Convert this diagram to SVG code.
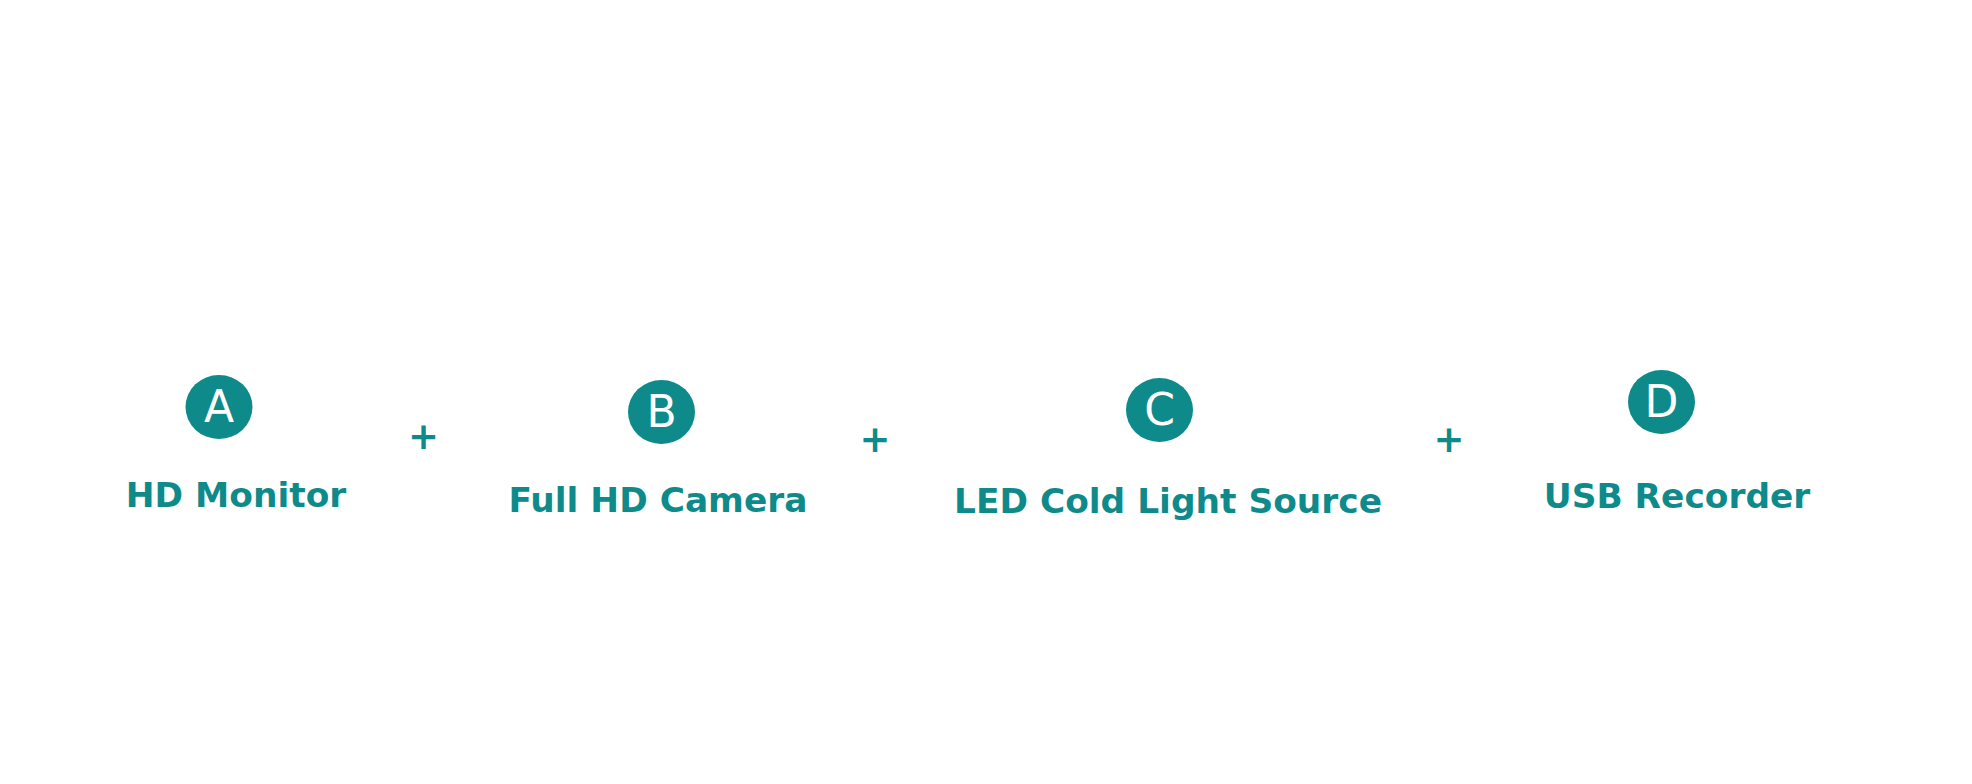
<svg xmlns="http://www.w3.org/2000/svg" width="1972" height="784" viewBox="0 0 1972 784">
<style>
.badge{fill:#0e8a8b}
.letter{fill:#ffffff;font-family:"DejaVu Sans",Verdana,sans-serif;font-size:44px;text-anchor:middle}
.label{fill:#0e8a8b;font-family:"DejaVu Sans",Verdana,sans-serif;font-weight:bold;font-size:34.4px;text-anchor:middle}
.plus{fill:#0e8a8b;font-family:"DejaVu Sans",Verdana,sans-serif;font-weight:bold;font-size:37px;text-anchor:middle}
</style>
<rect width="1972" height="784" fill="#ffffff"/>
<g id="node-a">
<ellipse class="badge" cx="219" cy="407" rx="33.5" ry="32"/>
<text class="letter" x="219" y="422">A</text>
<text class="label" x="236" y="507">HD Monitor</text>
</g>
<g id="node-b">
<ellipse class="badge" cx="661.5" cy="412" rx="33.5" ry="32"/>
<text class="letter" x="661.5" y="427">B</text>
<text class="label" x="658" y="512">Full HD Camera</text>
</g>
<g id="node-c">
<ellipse class="badge" cx="1159.5" cy="410" rx="33.5" ry="32"/>
<text class="letter" x="1159.5" y="425">C</text>
<text class="label" x="1168" y="513">LED Cold Light Source</text>
</g>
<g id="node-d">
<ellipse class="badge" cx="1661.5" cy="402" rx="33.5" ry="32"/>
<text class="letter" x="1661.5" y="417">D</text>
<text class="label" x="1677" y="508">USB Recorder</text>
</g>
<g id="connectors">
<text class="plus" x="423.5" y="448.5">+</text>
<text class="plus" x="875" y="451.5">+</text>
<text class="plus" x="1449" y="451.5">+</text>
</g>
</svg>
